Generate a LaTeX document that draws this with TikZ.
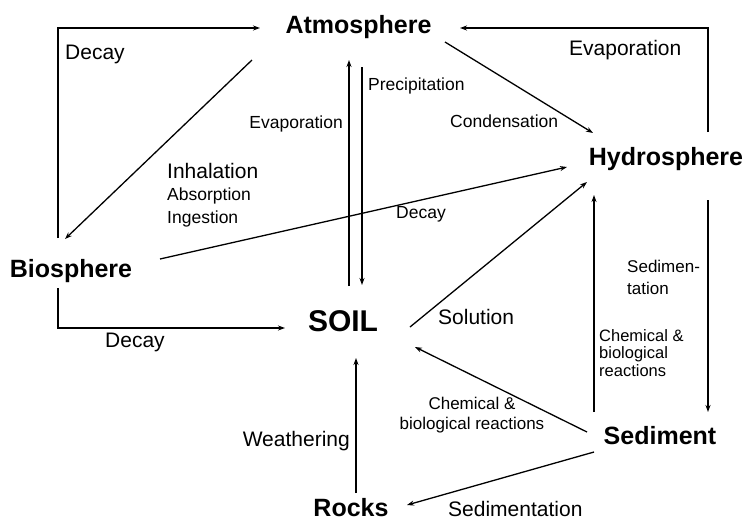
\documentclass[tikz,border=0pt]{standalone}
\usepackage{fontspec}
\setmainfont{Liberation Sans}
\usetikzlibrary{arrows.meta}

\begin{document}
\begin{tikzpicture}[x=1pt,y=-1pt,
    sphere/.style={font=\bfseries\fontsize{25}{30}\selectfont,anchor=base,inner sep=0},
    lbl/.style={font=\fontsize{17.5}{18}\selectfont,inner sep=0},
    lblb/.style={font=\fontsize{21}{22}\selectfont,inner sep=0},
    arr/.style={line width=1.3pt,-{Stealth[length=7pt,width=5pt]}}]
        \useasboundingbox (0,0) rectangle (749,523);
        % the six reservoirs
        \node[sphere] (atm) at (358.5,33) {Atmosphere};
        \node[sphere] (hyd) at (666,165) {Hydrosphere};
        \node[sphere] (bio) at (71,277) {Biosphere};
        \node[sphere,font=\bfseries\fontsize{30}{34}\selectfont] (soil) at (343,331) {SOIL};
        \node[sphere] (sed) at (660,444) {Sediment};
        \node[sphere] (rocks) at (351,516) {Rocks};
        % flows
        \draw[arr] ([shift={(-13,-39)}]bio.base) |- ([shift={(-98.5,-5)}]atm.base);
        \draw[arr] ([shift={(-106.5,27)}]atm.base) -- ([shift={(-6,-38)}]bio.base);
        \draw[arr] ([shift={(6,-45)}]soil.base) -- ([shift={(-9.5,27)}]atm.base);
        \draw[arr] ([shift={(3.5,34)}]atm.base) -- ([shift={(19,-46)}]soil.base);
        \draw[arr] ([shift={(86.5,9)}]atm.base) -- ([shift={(-73,-32)}]hyd.base);
        \draw[arr] ([shift={(42,-33)}]hyd.base) |- ([shift={(101.5,-5)}]atm.base);
        \draw[arr] ([shift={(89,-18)}]bio.base) -- ([shift={(-99,2)}]hyd.base);
        \draw[arr] ([shift={(67,-4)}]soil.base) -- ([shift={(-79,17)}]hyd.base);
        \draw[arr] ([shift={(-66,-32)}]sed.base) -- ([shift={(-72,30)}]hyd.base);
        \draw[arr] ([shift={(42,35)}]hyd.base) -- ([shift={(48,-32)}]sed.base);
        \draw[arr] ([shift={(-73,-12)}]sed.base) -- ([shift={(72,16)}]soil.base);
        \draw[arr] ([shift={(-66,8)}]sed.base) -- ([shift={(56,-11)}]rocks.base);
        \draw[arr] ([shift={(5,-23)}]rocks.base) -- ([shift={(13,27)}]soil.base);
        \draw[arr] ([shift={(-13,11)}]bio.base) |- ([shift={(-58,-3)}]soil.base);
        % labels
        \node[lblb,anchor=base west] (dec1) at (65,59) {Decay};
        \node[lbl,anchor=base east] (evap1) at (343,128) {Evaporation};
        \node[lbl,anchor=base west] (prec) at (368,90) {Precipitation};
        \node[lbl,anchor=base west] (cond) at (450,127) {Condensation};
        \node[lblb,anchor=base west] (evap2) at (569,55) {Evaporation};
        \node[lblb,anchor=base west] (inh) at (167,178) {Inhalation};
        \node[lbl,anchor=base west] (abs) at (167,200) {Absorption};
        \node[lbl,anchor=base west] (ing) at (167,223) {Ingestion};
        \node[lbl,anchor=base west] (dec2) at (396,218) {Decay};
        \node[lblb,anchor=base west] (dec3) at (105,347) {Decay};
        \node[lblb,anchor=base west] (sol) at (438,324) {Solution};
        \node[lbl,anchor=north west,align=left,font=\fontsize{17}{22}\selectfont] (sedt) at (627,260) {Sedimen-\\tation};
        \node[lbl,anchor=north west,align=left,font=\fontsize{16.5}{17.5}\selectfont] (chem1) at (599,329) {Chemical \&\\biological\\reactions};
        \node[lbl,anchor=north,align=center,font=\fontsize{17}{20}\selectfont] (chem2) at (472,397) {Chemical \&\\biological reactions};
        \node[lblb,anchor=base east] (weat) at (350,446) {Weathering};
        \node[lblb,anchor=base west] (sedm) at (448,516) {Sedimentation};
      \end{tikzpicture}
\end{document}
